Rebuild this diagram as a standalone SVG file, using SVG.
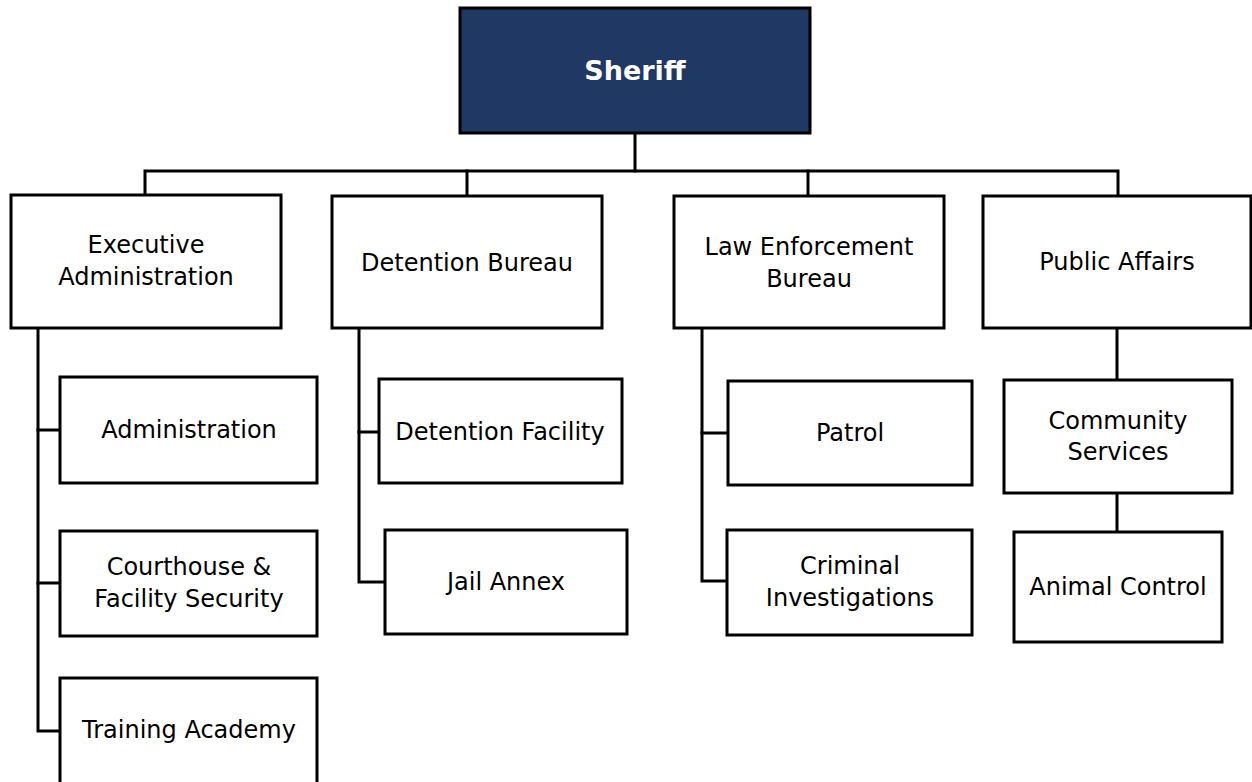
<svg xmlns="http://www.w3.org/2000/svg" width="1252" height="782" viewBox="0 0 1252 782">
  <style>
    .box { fill: #ffffff; stroke: #000000; stroke-width: 3; }
    .head { fill: #203864; stroke: #000000; stroke-width: 3; }
    .lbl { font-family: "DejaVu Sans", "Liberation Sans", sans-serif; font-size: 24px; fill: #000000; text-anchor: middle; }
    .title { font-family: "DejaVu Sans", "Liberation Sans", sans-serif; font-size: 27px; font-weight: bold; fill: #ffffff; text-anchor: middle; }
    .wire { fill: none; stroke: #000000; stroke-width: 3; stroke-linejoin: miter; stroke-linecap: square; }
  </style>

  <!-- connectors -->
  <g id="connectors">
    <path class="wire" d="M635 133 V171"/>
    <path class="wire" d="M145 195 V171 H1118 V196"/>
    <path class="wire" d="M467 171 V196"/>
    <path class="wire" d="M808 171 V196"/>
    <!-- Executive Administration spine -->
    <path class="wire" d="M38 328 V731 H60"/>
    <path class="wire" d="M38 430 H60"/>
    <path class="wire" d="M38 583 H60"/>
    <!-- Detention Bureau spine -->
    <path class="wire" d="M359 328 V582 H385"/>
    <path class="wire" d="M359 432 H379"/>
    <!-- Law Enforcement Bureau spine -->
    <path class="wire" d="M702 328 V581 H727"/>
    <path class="wire" d="M702 433 H727"/>
    <!-- Public Affairs chain -->
    <path class="wire" d="M1117 328 V380"/>
    <path class="wire" d="M1117 493 V532"/>
  </g>

  <g id="sheriff">
    <rect class="head" x="460" y="8" width="350" height="125"/>
    <text class="title" x="635" y="80">Sheriff</text>
  </g>

  <g id="executive-administration">
    <rect class="box" x="11" y="195" width="270" height="133"/>
    <text class="lbl" x="146" y="253">Executive</text>
    <text class="lbl" x="146" y="285">Administration</text>
  </g>

  <g id="detention-bureau">
    <rect class="box" x="332" y="196" width="270" height="132"/>
    <text class="lbl" x="467" y="271">Detention Bureau</text>
  </g>

  <g id="law-enforcement-bureau">
    <rect class="box" x="674" y="196" width="270" height="132"/>
    <text class="lbl" x="809" y="255">Law Enforcement</text>
    <text class="lbl" x="809" y="287">Bureau</text>
  </g>

  <g id="public-affairs">
    <rect class="box" x="983" y="196" width="268" height="132"/>
    <text class="lbl" x="1117" y="270">Public Affairs</text>
  </g>

  <g id="administration">
    <rect class="box" x="60" y="377" width="257" height="106"/>
    <text class="lbl" x="189" y="438">Administration</text>
  </g>

  <g id="courthouse-facility-security">
    <rect class="box" x="60" y="531" width="257" height="105"/>
    <text class="lbl" x="189" y="575">Courthouse &amp;</text>
    <text class="lbl" x="189" y="607">Facility Security</text>
  </g>

  <g id="training-academy">
    <rect class="box" x="60" y="678" width="257" height="112"/>
    <text class="lbl" x="189" y="738">Training Academy</text>
  </g>

  <g id="detention-facility">
    <rect class="box" x="379" y="379" width="243" height="104"/>
    <text class="lbl" x="500" y="440">Detention Facility</text>
  </g>

  <g id="jail-annex">
    <rect class="box" x="385" y="530" width="242" height="104"/>
    <text class="lbl" x="506" y="590">Jail Annex</text>
  </g>

  <g id="patrol">
    <rect class="box" x="728" y="381" width="244" height="104"/>
    <text class="lbl" x="850" y="441">Patrol</text>
  </g>

  <g id="criminal-investigations">
    <rect class="box" x="727" y="530" width="245" height="105"/>
    <text class="lbl" x="850" y="574">Criminal</text>
    <text class="lbl" x="850" y="606">Investigations</text>
  </g>

  <g id="community-services">
    <rect class="box" x="1004" y="380" width="228" height="113"/>
    <text class="lbl" x="1118" y="429">Community</text>
    <text class="lbl" x="1118" y="460">Services</text>
  </g>

  <g id="animal-control">
    <rect class="box" x="1014" y="532" width="208" height="110"/>
    <text class="lbl" x="1118" y="595">Animal Control</text>
  </g>
</svg>
